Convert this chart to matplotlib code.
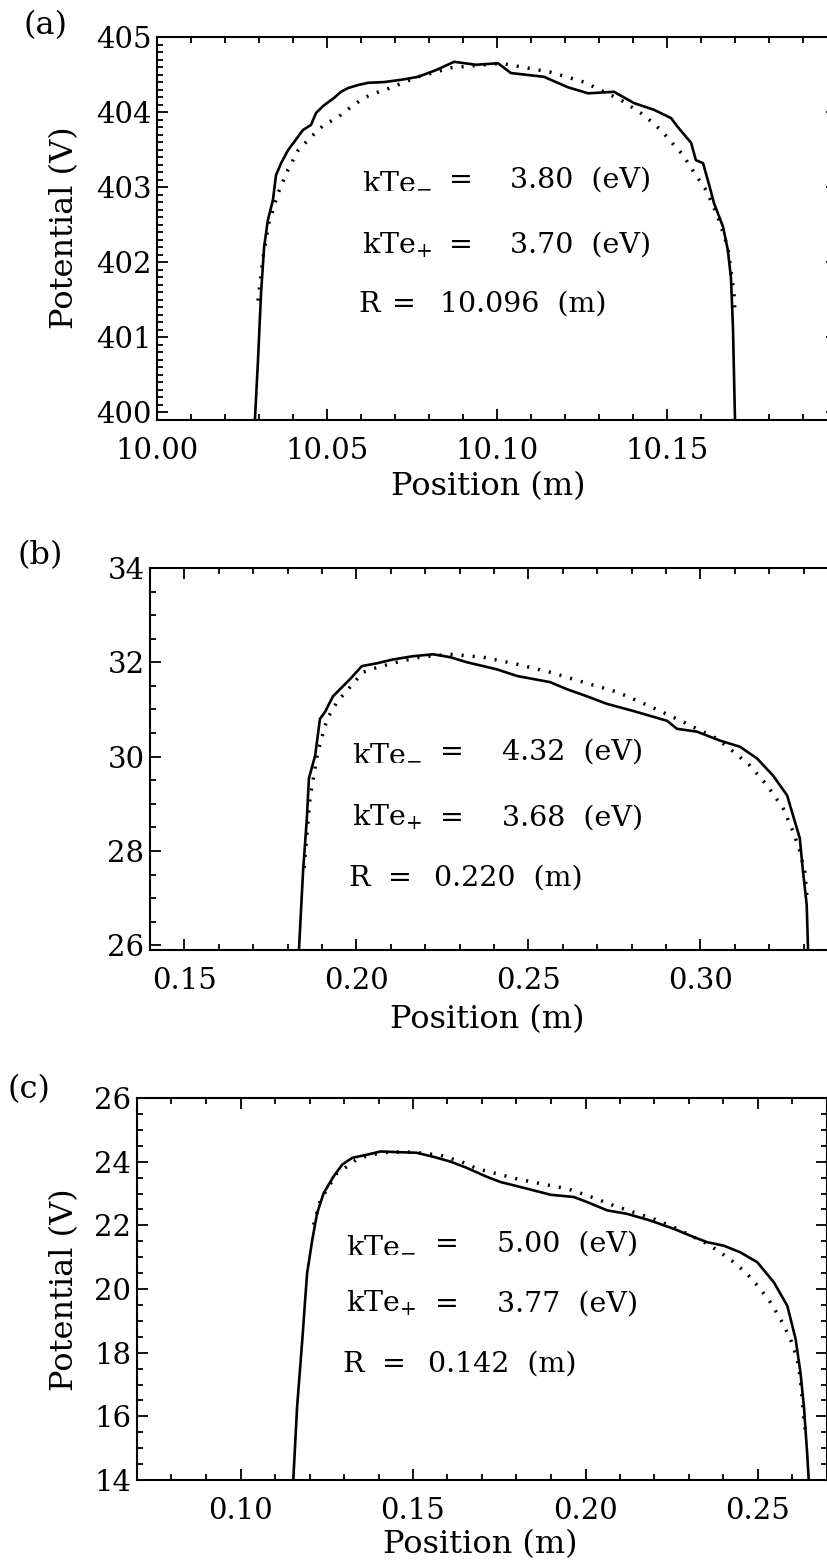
import matplotlib
matplotlib.use("Agg")
import matplotlib.pyplot as plt
from matplotlib.ticker import MultipleLocator, FormatStrFormatter

plt.rcParams['font.family'] = ['DejaVu Serif']
plt.rcParams['mathtext.fontset'] = 'dejavuserif'

W, H = 828, 1568

# ---- panel (a) ----
xa_meas = [10.0288, 10.0297, 10.0306, 10.0315, 10.0326, 10.0341, 10.0350, 10.0365, 10.0385, 10.0403,
           10.0429, 10.0453, 10.0468, 10.0491, 10.0521, 10.0541, 10.0562, 10.0591, 10.0621, 10.0668,
           10.0718, 10.0768, 10.0821, 10.0874, 10.0938, 10.1003, 10.1041, 10.1138, 10.1209, 10.1268,
           10.1344, 10.1403, 10.1462, 10.1512, 10.1532, 10.1571, 10.1585, 10.1606, 10.1624, 10.1638,
           10.1665, 10.1679, 10.1688, 10.1694, 10.1700]
ya_meas = [399.9, 400.69, 401.59, 402.20, 402.56, 402.83, 403.16, 403.32, 403.49, 403.60,
           403.76, 403.83, 403.99, 404.09, 404.19, 404.27, 404.32, 404.36, 404.39, 404.40,
           404.43, 404.47, 404.56, 404.67, 404.63, 404.65, 404.52, 404.47, 404.33, 404.25,
           404.27, 404.12, 404.03, 403.92, 403.80, 403.59, 403.36, 403.32, 403.03, 402.79,
           402.47, 402.16, 401.80, 401.13, 399.9]
xa_fit = [10.0297, 10.0312, 10.0329, 10.0356, 10.0385, 10.0415, 10.0453, 10.0491, 10.0532, 10.0571,
          10.0609, 10.0638, 10.0668, 10.0768, 10.0865, 10.1012, 10.1159, 10.1256, 10.1306, 10.1365,
          10.1432, 10.1482, 10.1521, 10.1547, 10.1579, 10.1615, 10.1638, 10.1653, 10.1679, 10.1688,
          10.1697, 10.1700]
ya_fit = [401.49, 402.07, 402.52, 402.92, 403.23, 403.49, 403.67, 403.83, 403.93, 404.07,
          404.19, 404.25, 404.29, 404.47, 404.59, 404.65, 404.53, 404.40, 404.29, 404.16,
          403.96, 403.76, 403.56, 403.43, 403.20, 402.96, 402.73, 402.56, 402.20, 401.89,
          401.59, 401.32]

# ---- panel (b) ----
xb_meas = [0.1833, 0.1845, 0.1856, 0.1862, 0.1880, 0.1894, 0.1909, 0.1932, 0.1947, 0.1981,
           0.2016, 0.2060, 0.2106, 0.2165, 0.2223, 0.2272, 0.2322, 0.2409, 0.2467, 0.2563,
           0.2612, 0.2670, 0.2728, 0.2804, 0.2903, 0.2932, 0.2990, 0.3057, 0.3115, 0.3165,
           0.3211, 0.3252, 0.3269, 0.3289, 0.3298, 0.3309, 0.3313]
yb_meas = [25.9, 27.58, 28.69, 29.54, 30.02, 30.80, 30.95, 31.28, 31.39, 31.64,
           31.92, 31.98, 32.06, 32.13, 32.17, 32.11, 32.00, 31.85, 31.71, 31.58,
           31.43, 31.28, 31.12, 30.97, 30.76, 30.59, 30.53, 30.34, 30.21, 29.96,
           29.60, 29.18, 28.76, 28.27, 27.58, 26.86, 25.9]
xb_fit = [0.1848, 0.1865, 0.1888, 0.1915, 0.1944, 0.1981, 0.2019, 0.2060, 0.2127, 0.2185,
          0.2272, 0.2368, 0.2467, 0.2563, 0.2659, 0.2758, 0.2853, 0.2949, 0.3048, 0.3095,
          0.3144, 0.3194, 0.3240, 0.3269, 0.3289, 0.3304, 0.3310]
yb_fit = [27.64, 29.12, 30.11, 30.80, 31.16, 31.47, 31.79, 31.89, 32.02, 32.11,
          32.17, 32.11, 31.96, 31.79, 31.58, 31.37, 31.07, 30.74, 30.38, 30.11,
          29.81, 29.39, 28.91, 28.42, 28.00, 27.54, 27.01]

# ---- panel (c) ----
xc_meas = [0.1153, 0.1164, 0.1179, 0.1193, 0.1208, 0.1222, 0.1241, 0.1270, 0.1295, 0.1324,
           0.1367, 0.1406, 0.1454, 0.1510, 0.1560, 0.1609, 0.1657, 0.1715, 0.1754, 0.1831,
           0.1899, 0.1966, 0.2005, 0.2063, 0.2121, 0.2188, 0.2256, 0.2314, 0.2353, 0.2401,
           0.2449, 0.2498, 0.2546, 0.2585, 0.2609, 0.2623, 0.2633, 0.2643, 0.2647]
yc_meas = [14.0, 16.29, 18.39, 20.49, 21.54, 22.38, 23.01, 23.54, 23.91, 24.12,
           24.22, 24.32, 24.30, 24.28, 24.15, 24.00, 23.80, 23.52, 23.36, 23.15,
           22.96, 22.89, 22.73, 22.47, 22.36, 22.15, 21.89, 21.63, 21.47, 21.36,
           21.15, 20.84, 20.21, 19.47, 18.43, 17.38, 16.32, 14.75, 14.0]
xc_fit = [0.1212, 0.1232, 0.1256, 0.1280, 0.1309, 0.1338, 0.1380, 0.1430, 0.1500, 0.1580,
          0.1640, 0.1686, 0.1744, 0.1802, 0.1870, 0.1947, 0.2005, 0.2082, 0.2140, 0.2198,
          0.2266, 0.2314, 0.2353, 0.2391, 0.2430, 0.2469, 0.2507, 0.2536, 0.2565, 0.2594,
          0.2614, 0.2623, 0.2628, 0.2633, 0.2638]
yc_fit = [22.02, 22.80, 23.22, 23.64, 23.85, 24.08, 24.22, 24.30, 24.30, 24.20,
          24.00, 23.78, 23.62, 23.46, 23.31, 23.15, 22.94, 22.62, 22.41, 22.20,
          21.89, 21.63, 21.42, 21.15, 20.84, 20.47, 20.00, 19.58, 19.06, 18.43,
          17.80, 17.17, 16.54, 15.91, 15.49]

# fit results printed in each panel
kte_minus = ["3.80", "4.32", "5.00"]
kte_plus = ["3.70", "3.68", "3.77"]
radius = ["10.096", "0.220", "0.142"]
panel_tags = ["(a)", "(b)", "(c)"]

fs_tick = 21
fs_lab = 23
fs_ann = 20.5
fig = plt.figure(figsize=(W / 100, H / 100), dpi=100)


def fr(px, py):
    return px / W, 1 - py / H


def make_axes(left, top, right, bottom):
    return fig.add_axes([left / W, 1 - bottom / H, (right - left) / W, (bottom - top) / H])


axA = make_axes(157, 37, 837, 420)
axB = make_axes(150, 568, 838, 950)
axC = make_axes(137, 1098, 827, 1480)

dots = (0, (0.6, 2.6))
axA.plot(xa_meas, ya_meas, color='black', lw=1.9)
axA.plot(xa_fit, ya_fit, color='black', lw=2.5, linestyle=dots)
axB.plot(xb_meas, yb_meas, color='black', lw=1.9)
axB.plot(xb_fit, yb_fit, color='black', lw=2.5, linestyle=dots)
axC.plot(xc_meas, yc_meas, color='black', lw=1.9)
axC.plot(xc_fit, yc_fit, color='black', lw=2.5, linestyle=dots)

axA.set_xlim(10.0, 10.2)
axA.set_ylim(399.9, 405.0)
axA.set_xticks([10.00, 10.05, 10.10, 10.15])
axA.xaxis.set_major_formatter(FormatStrFormatter('%.2f'))
axA.yaxis.set_major_locator(MultipleLocator(1))
axA.yaxis.set_minor_locator(MultipleLocator(0.1))

axB.set_xlim(0.14, 0.34)
axB.set_ylim(25.9, 34.0)
axB.set_xticks([0.15, 0.20, 0.25, 0.30])
axB.xaxis.set_major_formatter(FormatStrFormatter('%.2f'))
axB.yaxis.set_major_locator(MultipleLocator(2))
axB.yaxis.set_minor_locator(MultipleLocator(0.5))

axC.set_xlim(0.07, 0.27)
axC.set_ylim(14.0, 26.0)
axC.set_xticks([0.10, 0.15, 0.20, 0.25])
axC.xaxis.set_major_formatter(FormatStrFormatter('%.2f'))
axC.yaxis.set_major_locator(MultipleLocator(2))
axC.yaxis.set_minor_locator(MultipleLocator(0.5))

for ax in [axA, axB, axC]:
    ax.xaxis.set_minor_locator(MultipleLocator(0.01))
    ax.tick_params(which='both', direction='in', top=True, right=True, width=1.3)
    ax.tick_params(which='major', length=8)
    ax.tick_params(which='minor', length=4.5)
    ax.tick_params(axis='x', which='major', pad=12, labelsize=fs_tick)
    ax.tick_params(axis='y', which='major', pad=4, labelsize=fs_tick)
    for s in ax.spines.values():
        s.set_linewidth(1.5)
    ax.set_xlabel('Position (m)', fontsize=fs_lab)
    ax.xaxis.label.set_va('center')

axA.xaxis.set_label_coords((488 - 157) / 680, -(487 - 420) / 383)
axB.xaxis.set_label_coords((487 - 150) / 688, -(1020 - 950) / 382)
axC.xaxis.set_label_coords((480 - 137) / 690, -(1545 - 1480) / 382)

axA.set_ylabel('Potential (V)', fontsize=fs_lab)
axA.yaxis.label.set_va('center')
axA.yaxis.set_label_coords((65 - 157) / 680, (420 - 228) / 383)
axC.set_ylabel('Potential (V)', fontsize=fs_lab)
axC.yaxis.label.set_va('center')
axC.yaxis.set_label_coords((65 - 137) / 690, (1480 - 1290) / 382)

# panel tags
tag_pos = [(24, 26), (18, 556), (8, 1090)]
for tag, (px, py) in zip(panel_tags, tag_pos):
    fig.text(*fr(px, py), tag, fontsize=fs_lab, va='center', ha='left')

# annotation text, pixel positions (name x, "=" x, value x, R "=" x, R value x, baselines)
ann = [
    (362, 449, 510, 392, 440, [188, 253, 312]),
    (352, 440, 502, 388, 434, [760, 826, 886]),
    (346, 435, 497, 382, 428, [1252, 1312, 1372]),
]
for i, (xn, xe, xv, xre, xrv, ys) in enumerate(ann):
    fig.text(*fr(xn, ys[0]), 'kTe$_{-}$', fontsize=fs_ann, va='baseline')
    fig.text(*fr(xe, ys[0]), '=', fontsize=fs_ann, va='baseline')
    fig.text(*fr(xv, ys[0]), kte_minus[i] + '  (eV)', fontsize=fs_ann, va='baseline')
    fig.text(*fr(xn, ys[1]), 'kTe$_{+}$', fontsize=fs_ann, va='baseline')
    fig.text(*fr(xe, ys[1]), '=', fontsize=fs_ann, va='baseline')
    fig.text(*fr(xv, ys[1]), kte_plus[i] + '  (eV)', fontsize=fs_ann, va='baseline')
    fig.text(*fr(xn - 4, ys[2]), 'R', fontsize=fs_ann, va='baseline')
    fig.text(*fr(xre, ys[2]), '=', fontsize=fs_ann, va='baseline')
    fig.text(*fr(xrv, ys[2]), radius[i] + '  (m)', fontsize=fs_ann, va='baseline')

fig.savefig('out.png', dpi=100)
